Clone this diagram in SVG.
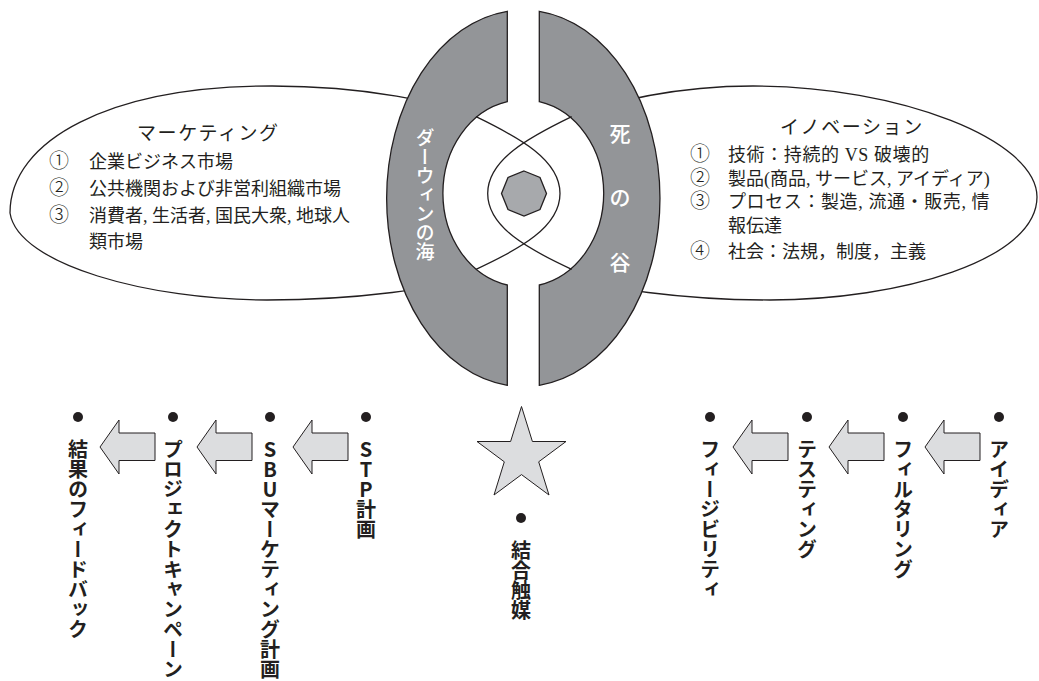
<svg xmlns="http://www.w3.org/2000/svg" width="1039" height="681" viewBox="0 0 1039 681">
<style>
.outline{fill:#ffffff;stroke:#231f20;stroke-width:1.3}
.band{fill:#939598;stroke:#231f20;stroke-width:1.3}
.thin{fill:none;stroke:#231f20;stroke-width:1.3}
.serif{font-family:"Liberation Serif","Noto Sans CJK JP",serif;font-size:18px;fill:#231f20}
.num{font-size:20px;font-weight:300}
.title{font-size:19px;letter-spacing:1.6px}
.white{font-family:"Noto Sans CJK JP",sans-serif;fill:#ffffff;font-weight:500}
.vlab{font-family:"Noto Sans CJK JP",sans-serif;font-size:20px;font-weight:700;fill:#231f20;writing-mode:vertical-rl;text-orientation:upright}
.dot{fill:#231f20}
.arrow{fill:#dcdddf;stroke:#231f20;stroke-width:1}
</style>
<defs>
<path id="arr" d="M0,0 L19,-27 L19,-14 L55,-14 L55,13.5 L19,13.5 L19,27 Z"/>
</defs>
<rect x="0" y="0" width="1039" height="681" fill="#ffffff"/>

<g id="marketing">
<path class="outline" d="M10,213 C10,140 110,86 272,86 C360,86 440,100 500,125 L500,270 C440,290 350,300 267,300 C150,300 18,265 10,213 Z"/>
<text class="serif title" x="137" y="140">マーケティング</text>
<text class="serif" y="168"><tspan class="num" x="49">①</tspan><tspan x="89">企業ビジネス市場</tspan></text>
<text class="serif" y="195"><tspan class="num" x="49">②</tspan><tspan x="89">公共機関および非営利組織市場</tspan></text>
<text class="serif" y="222"><tspan class="num" x="49">③</tspan><tspan x="89">消費者, 生活者, 国民大衆, 地球人</tspan></text>
<text class="serif" x="89" y="248">類市場</text>
</g>

<g id="innovation">
<path class="outline" d="M1037,197 C1037,140 900,86 753,86 C680,86 610,100 545,125 L545,270 C600,290 690,300 770,300 C900,300 1037,260 1037,197 Z"/>
<text class="serif title" x="780" y="134">イノベーション</text>
<text class="serif" y="161"><tspan class="num" x="690">①</tspan><tspan x="728" letter-spacing="0.6">技術：持続的 VS 破壊的</tspan></text>
<text class="serif" y="185"><tspan class="num" x="690">②</tspan><tspan x="728">製品(商品, サービス, アイディア)</tspan></text>
<text class="serif" y="208"><tspan class="num" x="690">③</tspan><tspan x="728" letter-spacing="0.6">プロセス：製造, 流通・販売, 情</tspan></text>
<text class="serif" x="728" y="232">報伝達</text>
<text class="serif" y="258"><tspan class="num" x="690">④</tspan><tspan x="728">社会：法規，制度，主義</tspan></text>
</g>

<g id="core">
<ellipse cx="523.3" cy="198.3" rx="136.7" ry="188.3" fill="#ffffff"/>
<path class="band" d="M507.3,11.3 A136.7,188.3 0 0 0 507.3,385.3 L507.3,285 A80.3,93.5 0 0 1 507.3,101.7 Z"/>
<path class="band" d="M539.3,11.3 A136.7,188.3 0 0 1 539.3,385.3 L539.3,285 A80.3,93.5 0 0 0 539.3,101.7 Z"/>
<path class="thin" d="M476,116.7 C520,138 560,160 560,193.5 C560,227 520,249 476,269.3"/>
<path class="thin" d="M571.7,116.7 C527.7,138 487.7,160 487.7,193.5 C487.7,227 527.7,249 571.7,269.3"/>
<polygon points="524,171 540,177.5 546.5,193.5 540,209.5 524,216 508,209.5 501.5,193.5 508,177.5" fill="#a7a9ac" stroke="#231f20" stroke-width="1.3"/>
<text class="white" x="425" y="128" font-size="19" style="writing-mode:vertical-rl">ダーウィンの海</text>
<text class="white" font-size="21" text-anchor="middle"><tspan x="620" y="140.5">死</tspan><tspan x="620" y="204.5">の</tspan><tspan x="620" y="269.5">谷</tspan></text>
</g>

<g id="catalyst">
<polygon points="521.5,406.5 532.4,441.5 566,441.5 538.7,461.8 549,495 521.5,474.6 494,495 504.3,461.8 477,441.5 510.6,441.5" fill="#dcdddf" stroke="#231f20" stroke-width="1"/>
<circle class="dot" cx="521" cy="518" r="5"/>
<text class="vlab" x="521" y="540">結合触媒</text>
</g>

<g id="step-feedback">
<circle class="dot" cx="78" cy="417" r="5"/>
<text class="vlab" x="78" y="439">結果のフィードバック</text>
</g>
<g id="step-campaign">
<circle class="dot" cx="173" cy="417" r="5"/>
<text class="vlab" x="173" y="439">プロジェクトキャンペーン</text>
</g>
<g id="step-sbu">
<circle class="dot" cx="270" cy="417" r="5"/>
<text class="vlab" x="270" y="439">SBUマーケティング計画</text>
</g>
<g id="step-stp">
<circle class="dot" cx="366" cy="417" r="5"/>
<text class="vlab" x="366" y="439">STP計画</text>
</g>
<g id="step-feasibility">
<circle class="dot" cx="710" cy="417" r="5"/>
<text class="vlab" x="710" y="439">フィージビリティ</text>
</g>
<g id="step-testing">
<circle class="dot" cx="807" cy="417" r="5"/>
<text class="vlab" x="807" y="439">テスティング</text>
</g>
<g id="step-filtering">
<circle class="dot" cx="903" cy="417" r="5"/>
<text class="vlab" x="903" y="439">フィルタリング</text>
</g>
<g id="step-idea">
<circle class="dot" cx="999" cy="417" r="5"/>
<text class="vlab" x="999" y="439">アイディア</text>
</g>

<g id="connectors">
<use href="#arr" class="arrow" x="100" y="447"/>
<use href="#arr" class="arrow" x="197" y="447"/>
<use href="#arr" class="arrow" x="293" y="447"/>
<use href="#arr" class="arrow" x="733" y="447"/>
<use href="#arr" class="arrow" x="829" y="447"/>
<use href="#arr" class="arrow" x="925" y="447"/>
</g>
</svg>
